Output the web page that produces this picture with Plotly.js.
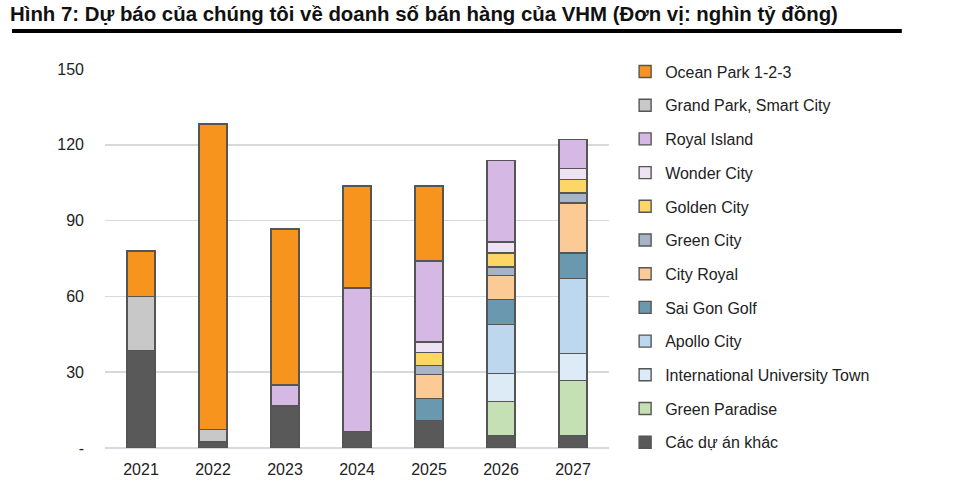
<!DOCTYPE html>
<html><head><meta charset="utf-8">
<script src="https://cdn.plot.ly/plotly-3.0.1.min.js"></script>
<style>body{margin:0;background:#fff}#chart{width:967px;height:483px}</style>
</head><body><div id="chart"></div>
<script>
const years = ['2021','2022','2023','2024','2025','2026','2027'];
const seriesNames = ['Các dự án khác','Green Paradise','International University Town','Apollo City','Sai Gon Golf','City Royal','Green City','Golden City','Wonder City','Royal Island','Grand Park, Smart City','Ocean Park 1-2-3'];
const cacDuAnKhac   = [38.5, 2.3, 16.7, 6.6, 10.8, 4.9, 4.9];
const greenParadise = [0, 0, 0, 0, 0, 13.6, 21.7];
const intlUniTown   = [0, 0, 0, 0, 0, 11.0, 10.9];
const apolloCity    = [0, 0, 0, 0, 0, 19.3, 29.6];
const saiGonGolf    = [0, 0, 0, 0, 8.9, 9.9, 10.1];
const cityRoyal     = [0, 0, 0, 0, 9.5, 9.6, 19.8];
const greenCity     = [0, 0, 0, 0, 3.4, 3.3, 3.9];
const goldenCity    = [0, 0, 0, 0, 5.3, 5.6, 5.4];
const wonderCity    = [0, 0, 0, 0, 4.0, 4.3, 4.4];
const royalIsland   = [0, 0, 8.2, 56.8, 32.1, 32.3, 11.3];
const grandPark     = [21.5, 5.1, 0, 0, 0, 0, 0];
const oceanPark     = [18.0, 120.8, 61.8, 40.3, 29.7, 0, 0];
const yTickVals = [0, 30, 60, 90, 120, 150];
const yTickText = ['-', '30', '60', '90', '120', '150'];

const values = [cacDuAnKhac, greenParadise, intlUniTown, apolloCity, saiGonGolf, cityRoyal, greenCity, goldenCity, wonderCity, royalIsland, grandPark, oceanPark];
const colors = ['#595959','#C5E0B4','#DDEBF7','#BDD7EE','#6A98AE','#FCCB95','#A7B4C8','#FCD766','#EDE3F3','#D5B8E4','#C8C8C8','#F7941D'];

const traces = seriesNames.map((n, i) => ({
  type: 'bar', name: n, x: years, y: values[i], legendgroup: 'g' + i,
  legendrank: 1000 - i,
  marker: {color: colors[i], line: {color: '#555555', width: 1.4}},
  hoverinfo: 'x+y+name'
}));

const layout = {
  width: 967, height: 483,
  margin: {l: 105, r: 358, t: 69, b: 35},
  paper_bgcolor: '#fff', plot_bgcolor: '#fff',
  barmode: 'stack', bargap: 0.61,
  font: {family: 'Liberation Sans, Arial, sans-serif', size: 16, color: '#222'},
  title: {text: '<b>Hình 7: Dự báo của chúng tôi về doanh số bán hàng của VHM (Đơn vị: nghìn tỷ đồng)</b>',
    xref: 'container', yref: 'container', x: 10/967, xanchor: 'left', y: 1 - 14/483, yanchor: 'middle',
    font: {family: 'Liberation Sans, Arial, sans-serif', size: 20.4, color: '#111'}},
  xaxis: {type: 'category', showgrid: false, zeroline: false, showline: false, ticks: '',
    ticklabelstandoff: 10, tickfont: {size: 16, color: '#222'}},
  yaxis: {range: [0, 150], tickvals: yTickVals, ticktext: yTickText, showgrid: true,
    gridcolor: '#D9D9D9', gridwidth: 1.5, zeroline: true, zerolinecolor: '#D9D9D9', zerolinewidth: 1.5,
    showline: false, ticks: '', ticklabelstandoff: 20, tickfont: {size: 16, color: '#222'}},
  legend: {x: 1.032, xanchor: 'left', y: 1.038, yanchor: 'top', traceorder: 'grouped',
    tracegroupgap: 9.9, font: {size: 16, color: '#222'}, itemwidth: 30, maxheight: 480,
    bgcolor: 'rgba(0,0,0,0)'},
  showlegend: true,
  shapes: [{type: 'line', xref: 'paper', yref: 'paper', x0: -0.1845, x1: 1.581, y0: 1.1003, y1: 1.1003,
    line: {color: '#000', width: 4}}]
};
Plotly.newPlot('chart', traces, layout, {displayModeBar: false, staticPlot: true});
</script></body></html>
